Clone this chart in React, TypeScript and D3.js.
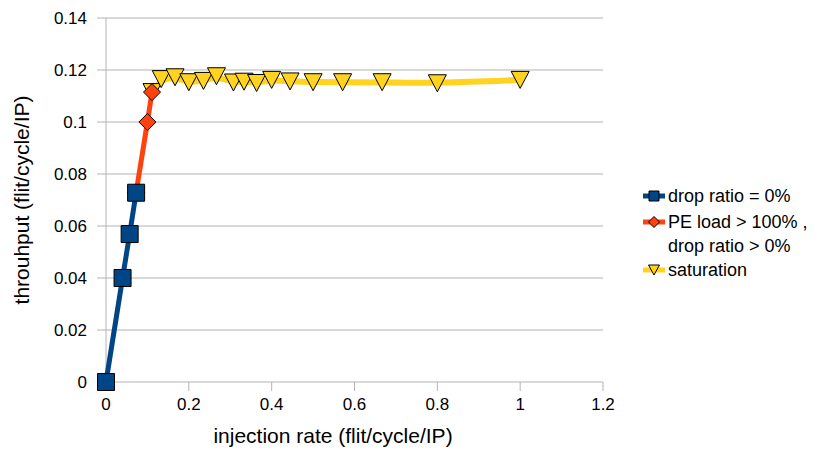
import React from "react";
import * as d3 from "d3";

// Injection rate (flit/cycle/IP) vs. throughput (flit/cycle/IP)
const dropZeroX = [0, 0.04, 0.0571, 0.0727];
const dropZeroY = [0, 0.04, 0.0569, 0.0728];

const peLoadX = [0.0727, 0.1, 0.1111];
const peLoadY = [0.0728, 0.1, 0.1115];

const saturationX = [
  0.1111, 0.1333, 0.1667, 0.2, 0.2353, 0.2667, 0.3077, 0.3333, 0.3636, 0.4,
  0.4444, 0.5, 0.5714, 0.6667, 0.8, 1.0,
];
const saturationY = [
  0.1115, 0.1165, 0.1172, 0.1153, 0.1158, 0.1176, 0.1152, 0.1155, 0.115,
  0.1162, 0.1156, 0.1153, 0.1153, 0.1153, 0.1149, 0.1162,
];

const xTicks = [0, 0.2, 0.4, 0.6, 0.8, 1, 1.2];
const yTicks = [0, 0.02, 0.04, 0.06, 0.08, 0.1, 0.12, 0.14];

const legendLabels = [
  ["drop ratio = 0%"],
  ["PE load > 100% ,", "drop ratio > 0%"],
  ["saturation"],
];

const BLUE = "#004586";
const ORANGE = "#ff420e";
const YELLOW = "#ffd320";
const GRID = "#b3b3b3";
const FONT = "'Liberation Sans', Arial, sans-serif";

const W = 818;
const H = 455;
const plot = { left: 106, right: 603, top: 18, bottom: 382 };

const x = d3.scaleLinear().domain([0, 1.2]).range([plot.left, plot.right]);
const y = d3.scaleLinear().domain([0, 0.14]).range([plot.bottom, plot.top]);

const zip = (xs: number[], ys: number[]) => xs.map((v, i) => [v, ys[i]] as [number, number]);

const straight = d3
  .line<[number, number]>()
  .x((d) => x(d[0]))
  .y((d) => y(d[1]));
const smooth = d3
  .line<[number, number]>()
  .x((d) => x(d[0]))
  .y((d) => y(d[1]))
  .curve(d3.curveBasis);

const square = (cx: number, cy: number, s: number) =>
  `M${cx - s},${cy - s}H${cx + s}V${cy + s}H${cx - s}Z`;
const diamond = (cx: number, cy: number, s: number) =>
  `M${cx},${cy - s}L${cx + s},${cy}L${cx},${cy + s}L${cx - s},${cy}Z`;
const triangle = (cx: number, cy: number, w: number, h: number) =>
  `M${cx - w},${cy - h}L${cx + w},${cy - h}L${cx},${cy + h}Z`;

export default function App() {
  const blue = zip(dropZeroX, dropZeroY);
  const orange = zip(peLoadX, peLoadY);
  const yellow = zip(saturationX, saturationY);
  const fmt = (v: number) => String(+v.toFixed(2));

  const lx0 = 643;
  const lx1 = 665;
  const legendRows = [196, 222, 270];

  return (
    <svg
      width={W}
      height={H}
      style={{ position: "absolute", left: 0, top: 0, background: "#fff" }}
      fontFamily={FONT}
    >
      {/* grid */}
      {yTicks.map((t) => (
        <line key={"g" + t} x1={plot.left - 9} x2={plot.right} y1={y(t)} y2={y(t)} stroke={GRID} strokeWidth={1} />
      ))}
      <line x1={plot.left} x2={plot.left} y1={plot.top} y2={plot.bottom + 9} stroke={GRID} />
      {xTicks.map((t) => (
        <line key={"xt" + t} x1={x(t)} x2={x(t)} y1={plot.bottom} y2={plot.bottom + 9} stroke={GRID} />
      ))}

      {/* tick labels */}
      {yTicks.map((t) => (
        <text key={"yl" + t} x={87} y={y(t)} dy="0.35em" textAnchor="end" fontSize={17} fill="#000">
          {fmt(t)}
        </text>
      ))}
      {xTicks.map((t) => (
        <text key={"xl" + t} x={x(t)} y={410} textAnchor="middle" fontSize={17} fill="#000">
          {fmt(t)}
        </text>
      ))}

      {/* axis titles */}
      <text x={333} y={443} textAnchor="middle" fontSize={21} fill="#000">
        injection rate (flit/cycle/IP)
      </text>
      <text transform={`translate(29,200) rotate(-90)`} textAnchor="middle" fontSize={21} fill="#000">
        throuhput (flit/cycle/IP)
      </text>

      {/* saturation */}
      <path d={smooth(yellow) || ""} fill="none" stroke={YELLOW} strokeWidth={6} />
      {yellow.map((d, i) => (
        <path key={"t" + i} d={triangle(x(d[0]), y(d[1]), 9, 8.5)} fill={YELLOW} stroke="#000" strokeWidth={1} strokeLinejoin="round" />
      ))}

      {/* PE load > 100% */}
      <path d={straight(orange) || ""} fill="none" stroke={ORANGE} strokeWidth={5} />
      {orange.map((d, i) => (
        <path key={"d" + i} d={diamond(x(d[0]), y(d[1]), 8.5)} fill={ORANGE} stroke="#000" strokeWidth={1} />
      ))}

      {/* drop ratio = 0% */}
      <path d={straight(blue) || ""} fill="none" stroke={BLUE} strokeWidth={5} />
      {blue.map((d, i) => (
        <path key={"s" + i} d={square(x(d[0]), y(d[1]), 8.5)} fill={BLUE} stroke="#000" strokeWidth={1} />
      ))}

      {/* legend */}
      <g>
        <line x1={lx0} x2={lx1} y1={legendRows[0]} y2={legendRows[0]} stroke={BLUE} strokeWidth={5} />
        <path d={square((lx0 + lx1) / 2, legendRows[0], 5)} fill={BLUE} stroke="#000" />
        <line x1={lx0} x2={lx1} y1={legendRows[1]} y2={legendRows[1]} stroke={ORANGE} strokeWidth={5} />
        <path d={diamond((lx0 + lx1) / 2, legendRows[1], 5.5)} fill={ORANGE} stroke="#000" />
        <line x1={lx0} x2={lx1} y1={legendRows[2]} y2={legendRows[2]} stroke={YELLOW} strokeWidth={5} />
        <path d={triangle((lx0 + lx1) / 2, legendRows[2], 5.5, 5)} fill={YELLOW} stroke="#000" />
        {legendLabels.map((lines, i) =>
          lines.map((s, j) => (
            <text key={"lg" + i + j} x={668} y={legendRows[i] + j * 24} dy="0.35em" fontSize={18} fill="#000">
              {s}
            </text>
          ))
        )}
      </g>
    </svg>
  );
}
